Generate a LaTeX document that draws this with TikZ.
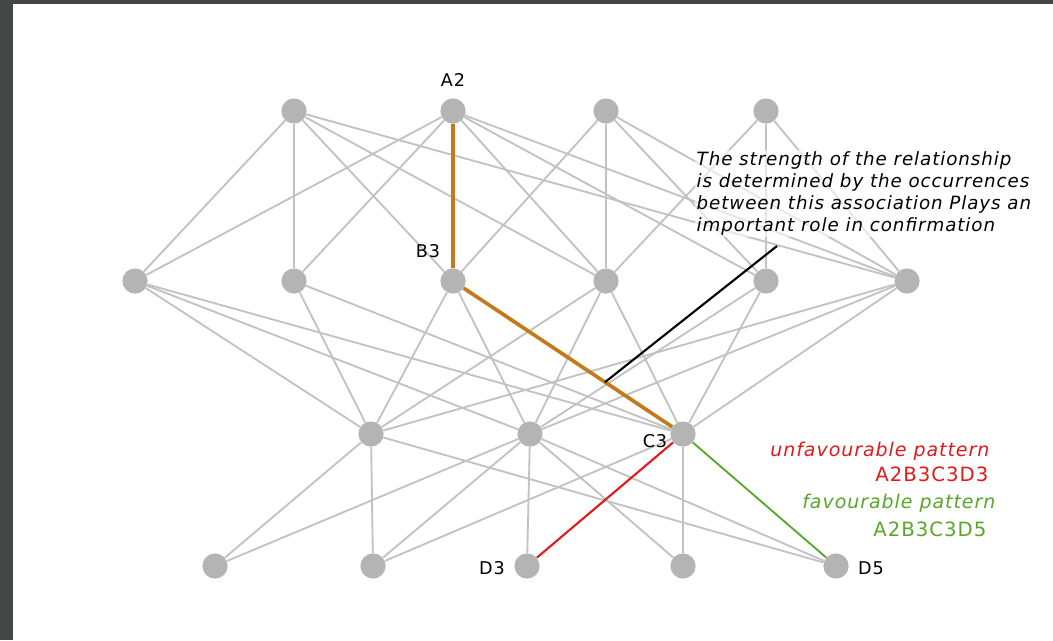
\documentclass[tikz,border=0pt]{standalone}
\usepackage{fontspec}
\setmainfont{DejaVu Sans}
\newfontfamily\handfont[LetterSpace=5]{DejaVu Sans}
\usetikzlibrary{calc}
\definecolor{nodegray}{RGB}{180,180,180}
\definecolor{edgegray}{RGB}{194,194,194}
\definecolor{pathorange}{RGB}{196,122,26}
\definecolor{badred}{RGB}{226,26,28}
\definecolor{goodgreen}{RGB}{88,166,42}
\definecolor{framegray}{RGB}{69,71,70}
\tikzset{
	dot/.style={circle,fill=nodegray,inner sep=0pt,minimum size=0.63cm},
	edge/.style={draw=edgegray,line width=1.3pt},
	lbl/.style={font=\handfont\fontsize{12.5}{14}\selectfont,inner sep=1pt},
	legend/.style={font=\handfont\fontsize{13.5}{15}\selectfont\itshape,anchor=east,inner sep=1pt},
	code/.style={font=\handfont\fontsize{14}{15}\selectfont,anchor=east,inner sep=1pt}
}
\begin{document}
\begin{tikzpicture}[x=0.025cm,y=-0.025cm]
		\useasboundingbox (0,0) rectangle (1053,640);
		\fill[framegray] (0,0) rectangle (1053,640);
		\fill[white] (13,4) rectangle (1053,640);
		\node[dot] (a1) at (294,111) {};
		\node[dot] (a2) at (453,111) {};
		\node[dot] (a3) at (606,111) {};
		\node[dot] (a4) at (766,111) {};
		\node[dot] (b1) at (135,281) {};
		\node[dot] (b2) at (294,281) {};
		\node[dot] (b3) at (453,281) {};
		\node[dot] (b4) at (606,281) {};
		\node[dot] (b5) at (766,281) {};
		\node[dot] (b6) at (907,281) {};
		\node[dot] (c1) at (371,434) {};
		\node[dot] (c2) at (530,434) {};
		\node[dot] (c3) at (683,434) {};
		\node[dot] (d1) at (215,566) {};
		\node[dot] (d2) at (373,566) {};
		\node[dot] (d3) at (527,566) {};
		\node[dot] (d4) at (683,566) {};
		\node[dot] (d5) at (836,566) {};
		\draw[edge](a1)--(b1);
		\draw[edge](a1)--(b2);
		\draw[edge](a1)--(b3);
		\draw[edge](a1)--(b4);
		\draw[edge](a1)--(b6);
		\draw[edge](a2)--(b1);
		\draw[edge](a2)--(b2);
		\draw[edge](a2)--(b4);
		\draw[edge](a2)--(b5);
		\draw[edge](a2)--(b6);
		\draw[edge](a3)--(b3);
		\draw[edge](a3)--(b4);
		\draw[edge](a3)--(b5);
		\draw[edge](a3)--(b6);
		\draw[edge](a4)--(b4);
		\draw[edge](a4)--(b5);
		\draw[edge](a4)--(b6);
		\draw[edge](b1)--(c1);
		\draw[edge](b1)--(c2);
		\draw[edge](b1)--(c3);
		\draw[edge](b2)--(c1);
		\draw[edge](b2)--(c3);
		\draw[edge](b3)--(c1);
		\draw[edge](b3)--(c2);
		\draw[edge](b4)--(c1);
		\draw[edge](b4)--(c2);
		\draw[edge](b4)--(c3);
		\draw[edge](b5)--(c2);
		\draw[edge](b5)--(c3);
		\draw[edge](b6)--(c1);
		\draw[edge](b6)--(c2);
		\draw[edge](b6)--(c3);
		\draw[edge](c1)--(d1);
		\draw[edge](c1)--(d2);
		\draw[edge](c1)--(d5);
		\draw[edge](c2)--(d1);
		\draw[edge](c2)--(d2);
		\draw[edge](c2)--(d3);
		\draw[edge](c2)--(d4);
		\draw[edge](c2)--(d5);
		\draw[edge](c3)--(d2);
		\draw[edge](c3)--(d4);
		\draw[pathorange,line width=2.6pt](a2)--(b3)--(c3);
		\draw[badred,line width=1.5pt](c3)--(d3);
		\draw[goodgreen,line width=1.3pt](c3)--(d5);
		\coordinate (hit) at ($(b3)!0.661!(c3)$);
		\coordinate (tip) at (777,246);
		\draw[black,line width=1.5pt](hit)--(tip);
		\node[anchor=north west,align=left,inner sep=1pt,fill=white,fill opacity=0.6,text opacity=1,
			font=\handfont\fontsize{13}{15.6}\selectfont\itshape] (note) at (695,150)
			{The strength of the relationship\\is determined by the occurrences\\between this association Plays an\\important role in confirmation};
		\node[lbl] (la2) at (453,80) {A2};
		\node[lbl] (lb3) at (428,251) {B3};
		\node[lbl] (lc3) at (655,441) {C3};
		\node[lbl] (ld3) at (492,568) {D3};
		\node[lbl] (ld5) at (871,568) {D5};
		\node[legend,text=badred] (bad) at (991,451) {unfavourable pattern};
		\node[code,text=badred] (badcode) at (990,474) {A2B3C3D3};
		\node[legend,text=goodgreen] (good) at (997,503) {favourable pattern};
		\node[code,text=goodgreen] (goodcode) at (988,529) {A2B3C3D5};
	\end{tikzpicture}
\end{document}
